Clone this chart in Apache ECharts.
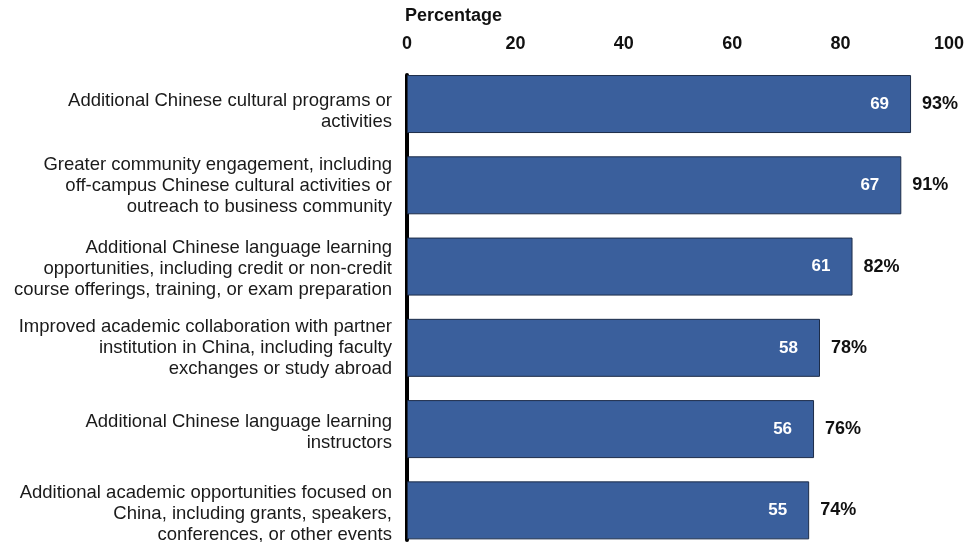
<!DOCTYPE html>
<html>
<head>
<meta charset="utf-8">
<script src="https://cdn.jsdelivr.net/npm/echarts@6/dist/echarts.min.js"></script>
<style>
html,body{margin:0;padding:0;background:#fff;overflow:hidden;width:980px;height:542px;}
#main{width:980px;height:551px;}
</style>
</head>
<body>
<div id="main"></div>
<script>
var categories = [
  "Additional Chinese cultural programs or\nactivities",
  "Greater community engagement, including\noff-campus Chinese cultural activities or\noutreach to business community",
  "Additional Chinese language learning\nopportunities, including credit or non-credit\ncourse offerings, training, or exam preparation",
  "Improved academic collaboration with partner\ninstitution in China, including faculty\nexchanges or study abroad",
  "Additional Chinese language learning\ninstructors",
  "Additional academic opportunities focused on\nChina, including grants, speakers,\nconferences, or other events"
];
var barLengths = [93, 91.2, 82.2, 76.2, 75.1, 74.2];
var counts = [69, 67, 61, 58, 56, 55];
var percentLabels = ["93%", "91%", "82%", "78%", "76%", "74%"];
var xTicks = [0, 20, 40, 60, 80, 100];

/* layout only: small vertical nudges for category labels (spacer line heights) */
var labelNudge = [14, 2, 4, 0, 6, 8];

var FONT = "Liberation Sans, Arial, Helvetica, sans-serif";
var chart = echarts.init(document.getElementById('main'), null, {renderer: 'canvas'});

var richSpacers = {};
labelNudge.forEach(function (h, i) {
  richSpacers['s' + i] = {fontSize: 1, lineHeight: h, height: h};
});

var option = {
  animation: false,
  backgroundColor: '#ffffff',
  title: {
    text: 'Percentage',
    left: 400,
    top: 2,
    textStyle: {fontFamily: FONT, fontSize: 18, fontWeight: 'bold', color: '#111'}
  },
  grid: [
    {left: 407, right: 31, top: 63.4, bottom: 0, containLabel: false},
    {left: 407, right: 31, top: 75, bottom: 11, containLabel: false}
  ],
  xAxis: [
    {
      type: 'value', gridIndex: 0, position: 'top',
      min: xTicks[0], max: xTicks[xTicks.length - 1], interval: 20,
      axisLine: {show: false}, axisTick: {show: false}, splitLine: {show: false},
      axisLabel: {
        show: true, margin: 10, color: '#111', fontFamily: FONT, fontSize: 18, fontWeight: 'bold',
        formatter: function (v) { return xTicks.indexOf(v) >= 0 ? String(v) : ''; }
      }
    },
    {
      type: 'value', gridIndex: 1, min: 0, max: 1, show: false
    }
  ],
  yAxis: [
    {
      type: 'category', gridIndex: 0, inverse: true, data: categories,
      axisLine: {show: false}, axisTick: {show: false}, splitLine: {show: false},
      axisLabel: {
        margin: 15, color: '#1a1a1a', fontFamily: FONT, fontSize: 18.5, lineHeight: 21, align: 'right',
        formatter: function (value, index) {
          return labelNudge[index] > 0 ? '{s' + index + '| }\n' + value : value;
        },
        rich: richSpacers
      }
    },
    {
      type: 'value', gridIndex: 1, min: 0, max: 1,
      axisLine: {show: true, lineStyle: {color: '#000', width: 4}},
      axisTick: {show: false}, axisLabel: {show: false}, splitLine: {show: false}
    }
  ],
  series: [
    {
      type: 'bar', xAxisIndex: 0, yAxisIndex: 0,
      data: barLengths, barWidth: 58, z: 2,
      itemStyle: {color: '#3a5f9c', borderColor: '#1c2c48', borderWidth: 1},
      label: {
        show: true, position: 'insideRight', distance: 22,
        color: '#ffffff', fontFamily: FONT, fontSize: 17, fontWeight: 'bold',
        formatter: function (p) { return String(counts[p.dataIndex]); }
      }
    },
    {
      type: 'bar', xAxisIndex: 0, yAxisIndex: 0,
      data: barLengths, barWidth: 58, barGap: '-100%', z: 1, silent: true,
      itemStyle: {color: 'rgba(0,0,0,0)'},
      label: {
        show: true, position: 'right', distance: 11,
        color: '#111', fontFamily: FONT, fontSize: 18, fontWeight: 'bold',
        formatter: function (p) { return percentLabels[p.dataIndex]; }
      }
    }
  ]
};
chart.setOption(option);
</script>
</body>
</html>
